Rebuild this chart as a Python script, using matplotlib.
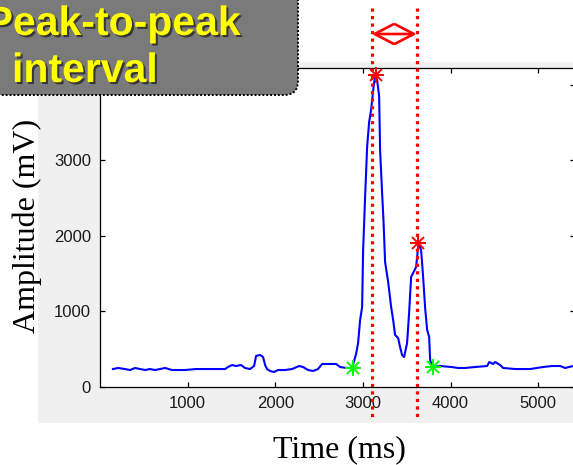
import matplotlib
matplotlib.use("Agg")
import matplotlib.pyplot as plt
import matplotlib.transforms as mtransforms
import matplotlib.patheffects as pe
from matplotlib.patches import Rectangle, FancyBboxPatch, FancyArrowPatch

# ---------------- data ----------------
time_ms = [148, 206, 285, 342, 400, 457, 514, 571, 628, 685, 742, 822, 970, 1096,
           1256, 1427, 1461, 1507, 1552, 1610, 1655, 1712, 1758, 1781, 1826, 1861,
           1884, 1906, 1941, 1986, 2032, 2112, 2192, 2272, 2317, 2374, 2431, 2488,
           2534, 2626, 2694, 2740, 2808, 2877, 2922, 2945, 2968, 2991, 3002, 3025,
           3048, 3071, 3093, 3105, 3128, 3145, 3162, 3185, 3196, 3219, 3236, 3253,
           3288, 3322, 3345, 3367, 3402, 3424, 3447, 3470, 3504, 3527, 3550, 3573,
           3607, 3630, 3634, 3664, 3687, 3710, 3733, 3756, 3767, 3790, 3800, 3881,
           4007, 4087, 4166, 4281, 4418, 4441, 4486, 4509, 4566, 4600, 4737, 4909,
           5057, 5160, 5251, 5308, 5399, 5440]
amplitude_mv = [238, 252, 238, 225, 252, 238, 225, 238, 225, 238, 252, 225, 225, 238,
                238, 238, 265, 291, 278, 291, 252, 238, 278, 411, 424, 397,
                291, 238, 212, 199, 225, 225, 238, 278, 265, 225, 212, 238,
                305, 305, 305, 265, 252, 252, 437, 583, 887, 1060, 1801, 2517,
                3179, 3510, 3669, 3801, 4040, 4132, 4066, 3854, 3139, 2570, 2172, 1656,
                1391, 1060, 887, 689, 649, 530, 424, 397, 583, 980, 1457, 1510,
                1589, 1854, 1903, 1815, 1457, 1046, 755, 662, 358, 265, 265, 278,
                265, 252, 252, 265, 278, 331, 305, 331, 291, 252, 238, 238,
                265, 278, 278, 252, 278, 270]

peak_t = [3145, 3634]
peak_a = [4132, 1903]
onset_t = [2885, 3805]
onset_a = [247, 261]

interval_marks = [3101, 3614]

x_ticks = [1000, 2000, 3000, 4000, 5000]
y_ticks = [0, 1000, 2000, 3000, 4000]
y_tick_labels = ["0", "1000", "2000", "3000", ""]  # 4000 label hidden behind the box

title_lines = ["Peak-to-peak", "interval"]
x_label = "Time (ms)"
y_label = "Amplitude (mV)"

# ---------------- figure ----------------
W, H = 573, 465
fig = plt.figure(figsize=(W / 100, H / 100), dpi=100, facecolor="white")
ident = mtransforms.IdentityTransform()

def px(x, y_top):
    """pixel (from top-left) -> display coords"""
    return x, H - y_top

# grey figure-like background (MATLAB figure colour)
bg = Rectangle(px(38, 423), W - 38, 423 - 62, transform=ident,
               facecolor="#f0f0f0", edgecolor="none", zorder=-5)
fig.patches.append(bg)

ax_left, ax_right, ax_top, ax_bottom = 100, 575, 68, 387
ax = fig.add_axes([ax_left / W, 1 - ax_bottom / H,
                   (ax_right - ax_left) / W, (ax_bottom - ax_top) / H])
ax.set_facecolor("white")

ax.plot(time_ms, amplitude_mv, color="#0000ff", lw=1.5, zorder=3)

# asterisk-style markers
for t, a in zip(peak_t, peak_a):
    ax.plot([t], [a], marker="+", color="#ff0000", ms=11, mew=1.4, zorder=4, clip_on=False)
    ax.plot([t], [a], marker="x", color="#ff0000", ms=8, mew=1.4, zorder=4, clip_on=False)
for t, a in zip(onset_t, onset_a):
    ax.plot([t], [a], marker="+", color="#00ff00", ms=11, mew=1.4, zorder=4)
    ax.plot([t], [a], marker="x", color="#00ff00", ms=8, mew=1.4, zorder=4)

ax.set_xlim(0, 5420)
ax.set_ylim(0, 4225)
ax.set_xticks(x_ticks)
ax.set_yticks(y_ticks)
ax.set_yticklabels(y_tick_labels)
ax.tick_params(direction="in", length=3.5, width=0.9, top=True, right=True,
               labelsize=12, labelcolor="#1a1a1a", pad=6.5)
for lab in ax.get_xticklabels() + ax.get_yticklabels():
    lab.set_fontfamily("Liberation Sans")
for s in ax.spines.values():
    s.set_linewidth(0.9)
    s.set_color("black")

# axis labels (serif, outside the grey area)
fig.text(339 / W, 1 - 450 / H, x_label, ha="center", va="center",
         fontsize=23, family="Liberation Serif", color="black")
fig.text(27 / W, 1 - 226 / H, y_label, ha="center", va="center", rotation=90,
         fontsize=23, family="Liberation Serif", color="black")

# red dotted interval markers spanning beyond the axes
blend = mtransforms.blended_transform_factory(ax.transData, fig.transFigure)
for t in interval_marks:
    ax.plot([t, t], [1 - 8 / H, 1 - 418 / H], transform=blend, color="#ff0000",
            lw=2.3, linestyle=(0, (1, 1.35)), clip_on=False, zorder=6)

arrow = FancyArrowPatch((interval_marks[0], 1 - 34 / H), (interval_marks[1], 1 - 34 / H),
                        transform=blend, arrowstyle="<->,head_length=1.35,head_width=0.7",
                        mutation_scale=10, color="#ff0000", lw=1.9,
                        shrinkA=0, shrinkB=0, clip_on=False, zorder=6)
ax.add_artist(arrow)

# title box
box = FancyBboxPatch(px(-20, 95), 318, 115, transform=ident,
                     boxstyle="round,pad=0,rounding_size=14",
                     facecolor="#7a7a7a", edgecolor="black", lw=1.4,
                     linestyle=(0, (1, 1)), zorder=10)
fig.patches.append(box)

shadow = [pe.withSimplePatchShadow(offset=(1.5, -1.5), shadow_rgbFace="#303030", alpha=0.9)]
t1 = fig.text(241 / W, 1 - 35 / H, title_lines[0], ha="right", va="baseline",
              fontsize=29.5, fontweight="bold", family="Liberation Sans",
              color="#ffff00", zorder=11)
t1.set_path_effects(shadow)
t2 = fig.text(12 / W, 1 - 82 / H, title_lines[1], ha="left", va="baseline",
              fontsize=29.5, fontweight="bold", family="Liberation Sans",
              color="#ffff00", zorder=11)
t2.set_path_effects(shadow)

fig.savefig("out.png", dpi=100, facecolor="white")
